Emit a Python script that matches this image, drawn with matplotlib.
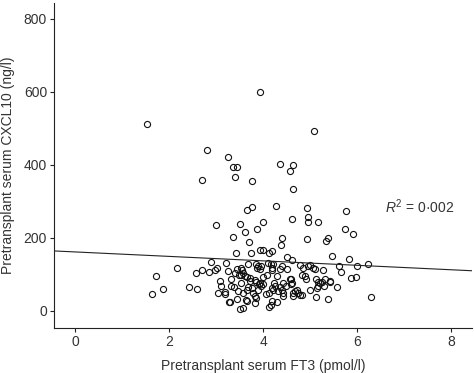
import numpy as np
import matplotlib
matplotlib.use("Agg")
from matplotlib import pyplot as plt

plt.rcParams['font.family'] = ['Liberation Sans', 'DejaVu Sans']
plt.rcParams['mathtext.fontset'] = 'custom'
plt.rcParams['mathtext.rm'] = 'Liberation Sans'
plt.rcParams['mathtext.it'] = 'Liberation Sans:italic'

# Pretransplant serum FT3 (pmol/l)
ft3 = [1.53, 3.93, 5.09, 2.80, 3.26, 3.37, 3.44, 3.41, 2.69, 3.76,
       4.36, 4.63, 4.57, 4.64, 4.27, 3.77, 3.65, 4.94, 4.96, 4.96,
       5.18, 4.62, 3.99, 3.51, 2.99, 3.87, 3.61, 5.77, 5.75, 5.92,
       3.36, 3.71, 4.41, 4.94, 5.39, 5.35, 4.39, 3.43, 3.75, 3.93,
       4.00, 4.12, 4.18, 4.50, 4.62, 5.47, 5.82, 6.23, 6.00, 6.29,
       5.61, 5.65, 5.87, 5.97, 5.58, 5.38, 5.13, 5.43, 1.73, 1.63,
       1.86, 2.16, 2.42, 2.59, 2.58, 2.69, 2.89, 2.84, 2.97, 3.02,
       3.22, 3.08, 3.10, 3.04, 3.20, 3.19, 3.28, 3.29, 3.31, 3.32,
       3.44, 3.50, 3.57, 3.64, 3.66, 3.82,
       3.54, 3.56, 3.58, 3.52, 3.61, 3.66, 3.72, 3.68, 3.86, 3.88,
       3.90, 3.93, 3.95, 4.11, 4.16, 4.22, 4.20, 4.19, 4.36, 4.40,
       4.29, 4.08, 4.00, 3.83, 3.86, 3.72, 3.52, 3.39, 3.47, 3.58,
       3.65, 3.68, 3.76, 3.79, 3.90, 3.83, 3.86, 3.93, 3.92, 3.95,
       4.00, 4.06, 4.13, 4.16, 4.13, 4.20, 4.18, 4.22, 4.23, 4.25,
       4.32, 4.35, 4.40, 4.42, 4.30, 4.43, 4.42, 4.49, 4.59, 4.61,
       4.59, 4.64, 4.68, 4.72, 4.75, 4.79, 4.82, 4.64, 4.57, 4.50,
       4.79, 4.86, 4.96, 5.00, 5.06, 5.11, 4.82, 4.89, 4.91, 4.99,
       5.13, 5.18, 5.14, 5.18, 5.21, 5.25, 5.28, 5.32, 5.30, 5.43,
       3.26, 3.40, 3.45, 3.49]

# Pretransplant serum CXCL10 (ng/l)
cxcl10 = [512, 600, 491, 439, 421, 393, 393, 365, 358, 354,
          401, 398, 384, 333, 287, 285, 276, 281, 258, 242,
          244, 250, 242, 237, 235, 223, 216, 272, 223, 209,
          203, 189, 198, 197, 198, 190, 179, 159, 157, 165,
          166, 157, 164, 146, 139, 149, 142, 128, 122, 37,
          122, 106, 89, 93, 64, 32, 38, 81, 94, 46,
          59, 118, 64, 60, 102, 112, 133, 106, 111, 117,
          130, 81, 69, 49, 45, 51, 24, 23, 86, 67,
          33, 5, 8, 29, 27, 21,
          117, 111, 104, 98, 95, 93, 89, 128, 127, 118,
          122, 115, 122, 131, 129, 127, 118, 111, 113, 122,
          95, 97, 93, 84, 78, 81, 75, 66, 54, 49,
          58, 66, 63, 49, 58, 40, 36, 77, 72, 67,
          72, 45, 49, 17, 11, 26, 63, 58, 77, 67,
          54, 66, 58, 75, 24, 40, 49, 67, 87, 77,
          72, 49, 54, 56, 49, 44, 43, 40, 86, 113,
          124, 118, 122, 124, 118, 115, 99, 95, 86, 58,
          86, 78, 63, 69, 77, 78, 111, 86, 69, 78,
          108, 104, 115, 99]

# fitted line
fit_intercept = 161.0
fit_slope = -6.1
r2_text = r'$R^2$ = 0·002'

xticks = [0, 2, 4, 6, 8]
yticks = [0, 200, 400, 600, 800]

fig = plt.figure(figsize=(4.74, 3.73), dpi=100)
ax = fig.add_axes([0.114, 0.121, 0.882, 0.872])

ax.plot(ft3, cxcl10, 'o', mfc='none', mec='#111111', ms=4.4, mew=0.8)

xlim = (-0.45, 8.45)
xs = np.array(xlim)
ax.plot(xs, fit_intercept + fit_slope * xs, color='#222222', lw=0.8)

ax.set_xlim(*xlim)
ax.set_ylim(-47, 844)
ax.set_xticks(xticks)
ax.set_yticks(yticks)

for side in ['top', 'right']:
    ax.spines[side].set_visible(False)
for side in ['left', 'bottom']:
    ax.spines[side].set_color('#222222')
    ax.spines[side].set_linewidth(0.8)

ax.tick_params(direction='out', length=3, width=0.8, color='#222222',
               labelsize=10, labelcolor='#333333', pad=2)

ax.set_xlabel('Pretransplant serum FT3 (pmol/l)', fontsize=10, color='#333333', labelpad=7)
ax.set_ylabel('Pretransplant serum CXCL10 (ng/l)', fontsize=10, color='#333333', labelpad=6)

ax.text(6.6, 286, r2_text, fontsize=10, color='#333333', va='center', ha='left')

fig.savefig('out.png', dpi=100)
